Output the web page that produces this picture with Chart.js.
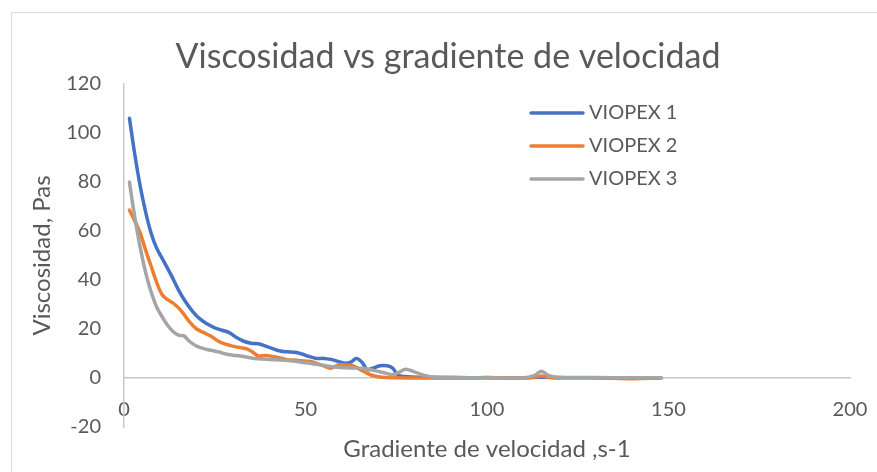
<!DOCTYPE html>
<html>
<head>
<meta charset="utf-8">
<script src="https://cdn.jsdelivr.net/npm/chart.js@4.4.0/dist/chart.umd.min.js"></script>
<style>
  html, body { margin: 0; padding: 0; background: #fff; overflow: hidden; }
  #frame { position: absolute; left: 11px; top: 12px; width: 900px; height: 500px; border: 1px solid #d9d9d9; }
  #wrap { position: absolute; left: 0; top: 0; width: 877px; height: 472px; }
</style>
</head>
<body>
<div id="frame"></div>
<div id="wrap"><canvas id="viscChart"></canvas></div>
<script>
// --- data (x = gradiente s-1, y = viscosidad Pas) ---
const seriesNames = ["VIOPEX 1", "VIOPEX 2", "VIOPEX 3"];
const seriesColors = ["#4472C4", "#ED7D31", "#A5A5A5"];

const v1Grad = [1.5, 3, 4.5, 6, 7.5, 9, 11, 13, 15, 17, 19, 21, 23, 25, 27, 29, 31, 33, 35, 37, 39, 41, 43, 45, 47, 49, 51, 53, 55, 57, 59, 61, 62.5, 64, 65.5, 67, 68.5, 70.5, 72.5, 74, 75.5, 78, 82, 88, 95, 100, 105, 110, 115, 120];
const v1Visc = [106, 91, 78, 67.5, 59, 53, 47.5, 42, 36, 31, 27, 24, 22, 20.5, 19.5, 18.5, 16.5, 15, 14.2, 14, 13, 12, 11, 10.7, 10.5, 9.8, 8.8, 8, 8, 7.6, 6.8, 6, 6.5, 8, 6.5, 3.5, 4, 5, 5, 4, 1.2, 0.5, 0.3, 0.2, 0.1, 0.2, 0.1, 0.1, 0.3, 0.1];

const v2Grad = [1.5, 3, 4.5, 6, 7.5, 9, 10.5, 12, 14, 16, 18, 20, 22, 24, 26, 28, 30, 32, 34, 35.5, 37, 39, 41, 43, 45, 47, 49, 51, 53, 55, 57, 59, 61, 63, 65, 67, 69, 71, 75, 80, 90, 100, 110, 113, 115, 117, 120, 130, 140, 148];
const v2Visc = [68.5, 64, 59, 52, 45.5, 39, 34, 32, 30, 27, 23, 20, 18.5, 17, 15, 13.8, 13, 12.4, 11.8, 10.5, 9, 9.2, 8.8, 8.2, 7.5, 7.3, 7, 6.8, 6, 5, 4, 5.3, 5.3, 5, 3.5, 1.9, 0.8, 0.3, 0.1, 0, 0, 0.1, 0, 0.3, 0.8, 0.3, 0, 0, -0.3, 0];

const v3Grad = [1.5, 2.5, 3.5, 4.5, 5.5, 6.5, 7.5, 9, 10.5, 12, 13.5, 15, 16.5, 18, 20, 22, 24, 26, 28, 30, 32, 34, 36, 38, 40, 43, 46, 50, 54, 58, 62, 66, 69, 72, 74, 76, 77.5, 80, 82.5, 85, 90, 100, 110, 113, 115, 117, 120, 130, 140, 148];
const v3Visc = [80, 70, 61, 53, 46, 40, 35, 29, 25, 21.5, 19, 17.5, 17.2, 15, 13, 12, 11.3, 10.7, 9.8, 9.3, 9, 8.5, 8, 7.8, 7.6, 7.3, 7, 6.2, 5.4, 4.5, 4.1, 3.9, 3, 2, 1.3, 2.5, 3.6, 2.5, 1.2, 0.4, 0.2, 0.1, 0.1, 1, 2.8, 1, 0.3, 0.2, 0.1, 0.1];

const xTicks = [0, 50, 100, 150, 200];
const yTicks = [-20, 0, 20, 40, 60, 80, 100, 120];

const TEXT = "#595959";
const AXIS = "#c8c8c8";
const FONT = "Lato";

function toPoints(xs, ys) {
  return xs.map((x, i) => ({ x, y: ys[i] }));
}

const pointSets = [toPoints(v1Grad, v1Visc), toPoints(v2Grad, v2Visc), toPoints(v3Grad, v3Visc)];

// title centred like the Excel original (not on the canvas centre)
const titlePlugin = {
  id: "excelTitle",
  afterDraw(chart) {
    const ctx = chart.ctx;
    ctx.save();
    ctx.font = `34px ${FONT}`;
    ctx.fillStyle = TEXT;
    ctx.textAlign = "center";
    ctx.textBaseline = "middle";
    ctx.fillText("Viscosidad vs gradiente de velocidad", 448, 57);
    ctx.restore();
  },
};

// legend sits inside the plot, upper right
const legendPlugin = {
  id: "insideLegend",
  afterDraw(chart) {
    const ctx = chart.ctx;
    ctx.save();
    ctx.font = `20px ${FONT}`;
    ctx.textBaseline = "middle";
    chart.data.datasets.forEach((ds, i) => {
      const y = 113 + i * 33;
      ctx.strokeStyle = ds.borderColor;
      ctx.lineWidth = 3.5;
      ctx.lineCap = "round";
      ctx.beginPath();
      ctx.moveTo(531, y);
      ctx.lineTo(583, y);
      ctx.stroke();
      ctx.fillStyle = TEXT;
      ctx.fillText(ds.label, 589, y);
    });
    ctx.restore();
  },
};

new Chart(document.getElementById("viscChart"), {
  type: "scatter",
  data: {
    datasets: seriesNames.map((name, i) => ({
      label: name,
      data: pointSets[i],
      showLine: true,
      borderColor: seriesColors[i],
      backgroundColor: seriesColors[i],
      borderWidth: 3.5,
      pointRadius: 0,
      tension: 0.4,
      borderCapStyle: "round",
      order: seriesNames.length - 1 - i, // later series painted on top, as in Excel
    })),
  },
  options: {
    responsive: true,
    maintainAspectRatio: false,
    animation: false,
    layout: { padding: { top: 84, right: 27, bottom: 0, left: 0 } },
    plugins: {
      legend: { display: false },
      tooltip: { enabled: false },
    },
    scales: {
      x: {
        type: "linear",
        position: { y: 0 },
        min: 0,
        max: 200,
        afterBuildTicks: (s) => { s.ticks = xTicks.map((v) => ({ value: v })); },
        ticks: { color: TEXT, font: { family: FONT, size: 20 }, padding: 20, maxRotation: 0 },
        grid: { display: false, drawTicks: false },
        border: { color: AXIS, width: 1.5 },
        afterFit: (s) => { s.paddingLeft = 0; s.paddingRight = 0; },
      },
      x2: {
        type: "linear",
        position: "bottom",
        min: 0,
        max: 200,
        ticks: { display: false },
        grid: { display: false, drawTicks: false },
        border: { display: false },
        title: {
          display: true,
          text: "Gradiente de velocidad ,s-1",
          color: TEXT,
          font: { family: FONT, size: 24 },
          padding: { top: 0, bottom: 8 },
        },
        afterFit: (s) => { s.height = 45; s.paddingLeft = 0; s.paddingRight = 0; },
      },
      y: {
        type: "linear",
        position: "left",
        min: -20,
        max: 120,
        afterBuildTicks: (s) => { s.ticks = yTicks.map((v) => ({ value: v })); },
        ticks: { color: TEXT, font: { family: FONT, size: 20 }, padding: 23 },
        grid: { display: false, drawTicks: false },
        border: { color: AXIS, width: 1.5 },
        title: {
          display: true,
          text: "Viscosidad, Pas",
          color: TEXT,
          font: { family: FONT, size: 24 },
          padding: { top: 28, bottom: 0 },
        },
        afterFit: (s) => { s.width = 124; },
      },
    },
  },
  plugins: [titlePlugin, legendPlugin],
});
</script>
</body>
</html>
